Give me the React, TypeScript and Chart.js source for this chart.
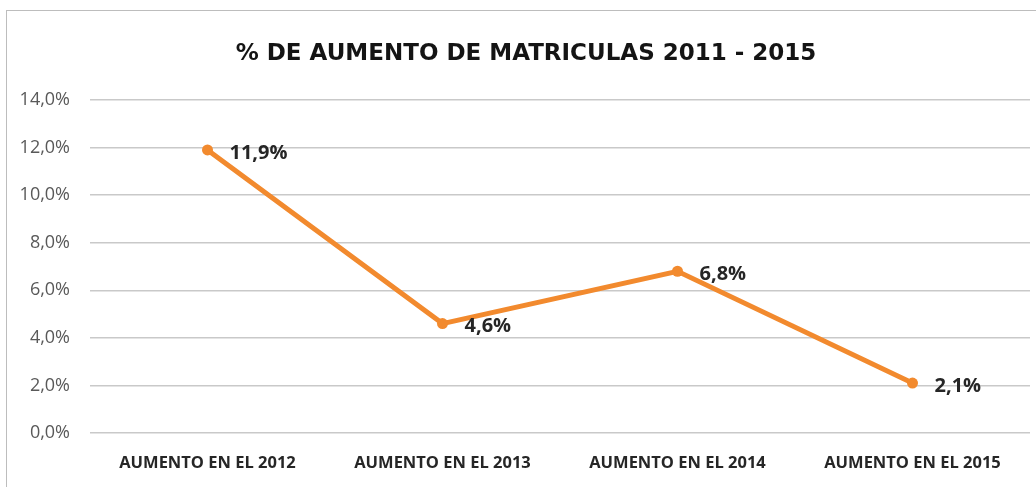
import React, { useEffect, useRef } from "react";
import { Chart, registerables } from "chart.js";

Chart.register(...registerables);

const categories = ["AUMENTO EN EL 2012", "AUMENTO EN EL 2013", "AUMENTO EN EL 2014", "AUMENTO EN EL 2015"];
const values = [11.9, 4.6, 6.8, 2.1];
const titleText = "% DE AUMENTO DE MATRICULAS 2011 - 2015";
const FONT = "'Open Sans', 'Noto Sans', sans-serif";
const TITLE_FONT = "'DejaVu Sans', Verdana, sans-serif";

const fmt = (v: number) => v.toFixed(1).replace(".", ",") + "%";

const labelPlugin = {
  id: "pointLabels",
  afterDatasetsDraw(chart: any) {
    const ctx = chart.ctx;
    const meta = chart.getDatasetMeta(0);
    ctx.save();
    ctx.font = `bold 20px ${FONT}`;
    ctx.fillStyle = "#262626";
    ctx.textAlign = "left";
    ctx.textBaseline = "middle";
    meta.data.forEach((pt: any, i: number) => {
      ctx.fillText(fmt(values[i]), pt.x + 22, pt.y + 3);
    });
    ctx.restore();
  },
};

const titlePlugin = {
  id: "customTitle",
  afterDraw(chart: any) {
    const ctx = chart.ctx;
    ctx.save();
    ctx.font = `bold 23px ${TITLE_FONT}`;
    ctx.fillStyle = "#141414";
    ctx.textAlign = "center";
    ctx.textBaseline = "middle";
    ctx.fillText(titleText, 526, 54);
    ctx.restore();
  },
};

export default function App() {
  const ref = useRef<HTMLCanvasElement | null>(null);
  useEffect(() => {
    if (!ref.current) return;
    const chart = new Chart(ref.current, {
      type: "line",
      data: {
        labels: categories,
        datasets: [
          {
            data: values,
            borderColor: "#F28A2E",
            backgroundColor: "#F28A2E",
            borderWidth: 5,
            pointRadius: 5.5,
            pointBackgroundColor: "#F28A2E",
            pointBorderWidth: 0,
            tension: 0,
          },
        ],
      },
      options: {
        animation: false,
        responsive: false,
        layout: { padding: { left: 0, right: 6, top: 100, bottom: 0 } },
        plugins: {
          legend: { display: false },
          tooltip: { enabled: false },
          title: { display: false },
        },
        scales: {
          x: {
            offset: true,
            afterFit: (s: any) => {
              s.height = 54;
            },
            grid: { display: false, drawTicks: false },
            border: { display: false },
            ticks: {
              color: "#262626",
              font: { family: FONT, size: 16.5, weight: "bold" },
              padding: 20,
              maxRotation: 0,
            },
          },
          y: {
            min: 0,
            max: 14,
            afterFit: (s: any) => {
              s.width = 90;
            },
            grid: { color: "#c9c9c9", lineWidth: 1.5, drawTicks: false },
            border: { display: false },
            ticks: {
              stepSize: 2,
              color: "#595959",
              padding: 20,
              font: { family: FONT, size: 18 },
              callback: (v: any) => fmt(Number(v)),
            },
          },
        },
      },
      plugins: [labelPlugin, titlePlugin],
    });
    return () => chart.destroy();
  }, []);
  return (
    <div style={{ position: "fixed", left: 0, top: 0, width: 1036, height: 487, background: "#fff", overflow: "hidden" }}>
      <div
        style={{
          position: "absolute",
          left: 6,
          top: 10,
          width: 1100,
          height: 600,
          border: "1.5px solid #bdbdbd",
        }}
      />
      <canvas ref={ref} width={1036} height={487} style={{ position: "absolute", left: 0, top: 0 }} />
    </div>
  );
}
